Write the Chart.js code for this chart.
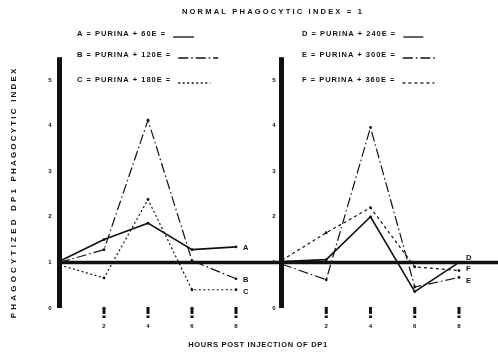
<!DOCTYPE html>
<html>
<head>
<meta charset="utf-8">
<script src="https://cdn.jsdelivr.net/npm/chart.js@4/dist/chart.umd.min.js"></script>
<style>
  body { margin: 0; background: #fff; }
  #wrap { position: relative; width: 498px; height: 359px; }
  canvas { position: absolute; left: 0; top: 0; }
</style>
</head>
<body>
<div id="wrap">
  <canvas id="left" width="498" height="359"></canvas>
  <canvas id="right" width="498" height="359"></canvas>
</div>
<script>
// ---- data ----
const hours = [0, 2, 4, 6, 8];
const xTicks = [2, 4, 6, 8];
const yTicks = [0, 1, 2, 3, 4, 5];

const seriesA = [1.03, 1.5, 1.86, 1.28, 1.34];
const seriesB = [1.0, 1.28, 4.12, 1.04, 0.64];
const seriesC = [0.94, 0.66, 2.38, 0.4, 0.4];
const seriesD = [1.02, 1.06, 2.0, 0.36, 1.0];
const seriesE = [0.96, 0.62, 3.96, 0.46, 0.67];
const seriesF = [1.05, 1.65, 2.2, 0.9, 0.82];

const legendLeft = ["A = PURINA + 60E =", "B = PURINA + 120E =", "C = PURINA + 180E ="];
const legendRight = ["D = PURINA + 240E =", "E = PURINA + 300E =", "F = PURINA + 360E ="];

const FONT = "bold 7.5px 'Liberation Sans', Arial, sans-serif";

function series(name, values, dash, width) {
  return {
    label: name,
    data: hours.map((h, i) => ({ x: h, y: values[i] })),
    borderColor: "#111",
    backgroundColor: "#111",
    borderWidth: width || 1.2,
    borderDash: dash,
    pointRadius: 1.4,
    pointBorderWidth: 0,
    tension: 0,
    clip: false
  };
}

// axes, ticks, labels and legend drawn with the chart's own scales
const decor = {
  id: "decor",
  beforeDatasetsDraw(chart, args, o) {
    const ctx = chart.ctx, xs = chart.scales.x, ys = chart.scales.y;
    const x0 = xs.getPixelForValue(0);
    ctx.save();
    ctx.fillStyle = "#111";
    ctx.strokeStyle = "#111";
    // thick y axis bar
    ctx.fillRect(x0 - 3, ys.getPixelForValue(5.5), 5, ys.getPixelForValue(0) - ys.getPixelForValue(5.5));
    // normal index line
    if (o.baseline) {
      ctx.lineWidth = 3.5;
      ctx.beginPath();
      ctx.moveTo(x0 - 2, ys.getPixelForValue(1));
      ctx.lineTo(chart.width, ys.getPixelForValue(1));
      ctx.stroke();
    }
    // y tick labels
    ctx.font = "bold 6px 'Liberation Sans', Arial, sans-serif";
    ctx.textAlign = "center";
    ctx.textBaseline = "middle";
    yTicks.forEach(t => ctx.fillText(String(t), x0 - o.yLabelGap, ys.getPixelForValue(t)));
    // x tick marks
    const yb = ys.getPixelForValue(0);
    xTicks.forEach(t => {
      const px = xs.getPixelForValue(t);
      ctx.fillRect(px - 1.5, yb - 1, 3, 7);
      ctx.fillRect(px - 1.5, yb + 7.5, 3, 2.5);
      ctx.fillText(String(t), px, yb + 18);
    });
    ctx.restore();
  },
  afterDatasetsDraw(chart, args, o) {
    const ctx = chart.ctx, xs = chart.scales.x, ys = chart.scales.y;
    ctx.save();
    ctx.fillStyle = "#111";
    ctx.strokeStyle = "#111";
    ctx.font = FONT;
    ctx.textBaseline = "middle";
    ctx.textAlign = "left";
    chart.data.datasets.forEach((ds, i) => {
      const last = ds.data[ds.data.length - 1];
      ctx.fillText(ds.label, xs.getPixelForValue(last.x) + 7, ys.getPixelForValue(last.y) + o.endShift[i]);
      // legend row
      const ly = o.legendY[i];
      ctx.letterSpacing = "1px";
      ctx.fillText(o.legend[i], o.legendX, ly);
      const w = ctx.measureText(o.legend[i]).width + 7;
      ctx.letterSpacing = "0px";
      ctx.lineWidth = 1.3;
      ctx.setLineDash(ds.borderDash || []);
      ctx.beginPath();
      ctx.moveTo(o.legendX + w, ly + 3);
      ctx.lineTo(o.legendX + w + o.sampleLen[i], ly + 3);
      ctx.stroke();
      ctx.setLineDash([]);
    });
    ctx.restore();
  }
};

function panel(id, datasets, padding, opts) {
  return new Chart(document.getElementById(id), {
    type: "line",
    data: { datasets },
    options: {
      responsive: false,
      animation: false,
      events: [],
      layout: { padding },
      scales: {
        x: { type: "linear", min: 0, max: 8, display: false },
        y: { min: 0, max: 5, display: false }
      },
      plugins: { legend: { display: false }, tooltip: { enabled: false }, decor: opts }
    },
    plugins: [decor]
  });
}

panel("left", [
  series("A", seriesA, [], 1.6),
  series("B", seriesB, [10, 3, 1.5, 3]),
  series("C", seriesC, [2, 2.5])
], { left: 60, right: 262, top: 80, bottom: 51 }, {
  baseline: true, yLabelGap: 10,
  legend: legendLeft, legendX: 77, legendY: [34, 55, 80],
  sampleLen: [21, 40, 32], endShift: [1, 1, 2]
});

panel("right", [
  series("D", seriesD, [], 1.6),
  series("E", seriesE, [10, 3, 1.5, 3]),
  series("F", seriesF, [3, 3])
], { left: 282, right: 39, top: 80, bottom: 51 }, {
  baseline: false, yLabelGap: 8,
  legend: legendRight, legendX: 302, legendY: [34, 55, 80],
  sampleLen: [20, 35, 32], endShift: [-4, 3, -2]
});

// titles
const tctx = document.getElementById("right").getContext("2d");
tctx.save();
tctx.fillStyle = "#111";
tctx.font = FONT;
tctx.textAlign = "center";
tctx.textBaseline = "middle";
tctx.letterSpacing = "2.2px";
tctx.fillText("NORMAL PHAGOCYTIC INDEX = 1", 273, 12);
tctx.letterSpacing = "0.7px";
tctx.fillText("HOURS POST INJECTION OF DP1", 258, 345);
tctx.font = "bold 8px 'Liberation Sans', Arial, sans-serif";
tctx.translate(14, 0);
tctx.rotate(-Math.PI / 2);
tctx.letterSpacing = "2.2px";
tctx.fillText("PHAGOCYTIC INDEX", -124, 0);
tctx.letterSpacing = "3.2px";
tctx.fillText("PHAGOCYTIZED DP1", -252, 0);
tctx.restore();
</script>
</body>
</html>
